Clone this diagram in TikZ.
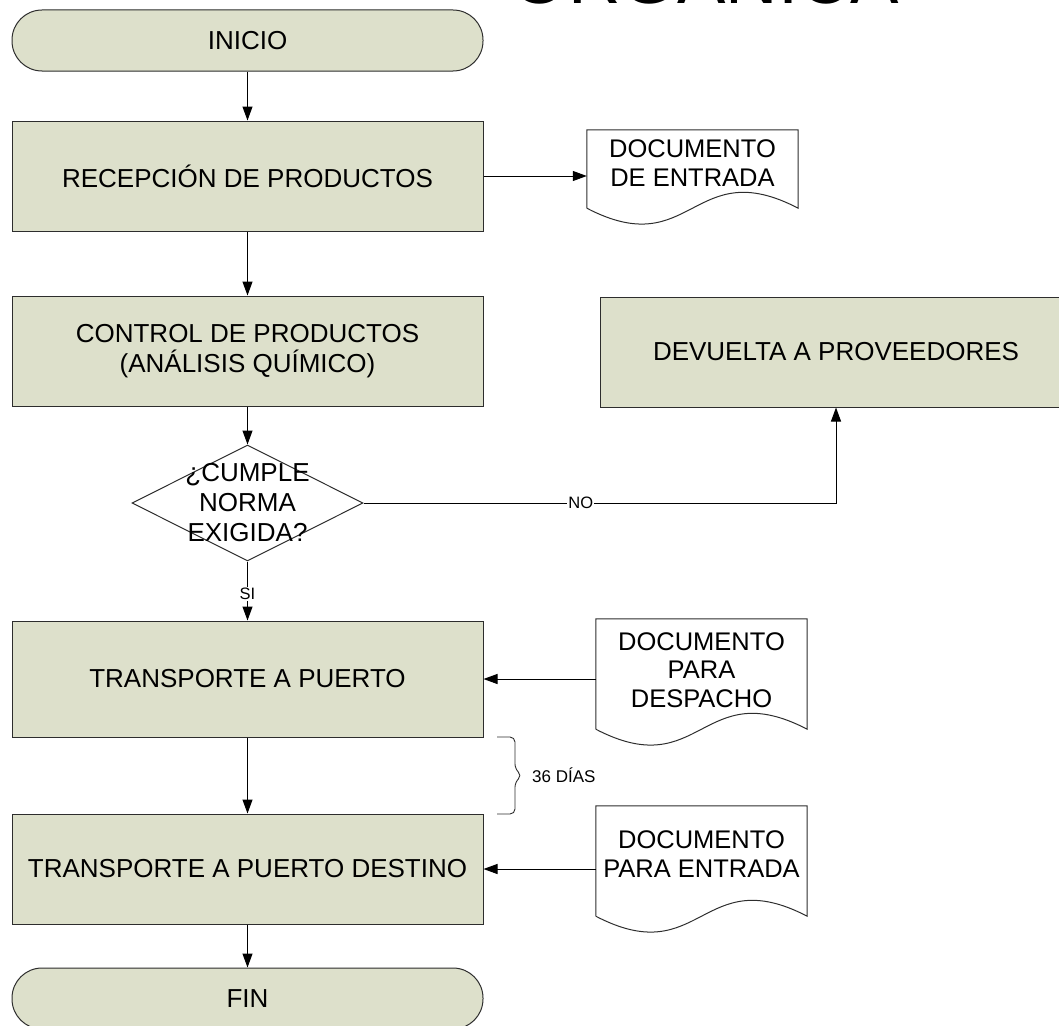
\documentclass[tikz,border=0pt]{standalone}
\usepackage{fontspec}
\setmainfont{Liberation Sans}
\usetikzlibrary{arrows.meta,shapes.geometric,calc}
\definecolor{boxfill}{RGB}{221,224,203}
\definecolor{edge}{RGB}{45,45,45}
\begin{document}
\begin{tikzpicture}[x=1pt,y=-1pt,
  base/.style={font=\fontsize{26}{30}\selectfont, align=center, inner sep=0pt},
  proc/.style={base, draw=edge, fill=boxfill, line width=1pt, minimum width=471pt, minimum height=110pt},
  term/.style={base, draw=edge, fill=boxfill, line width=1pt, rounded corners=30pt, minimum width=471pt, minimum height=61pt},
  docbox/.style={base, minimum width=211pt},
  doctext/.style={font=\fontsize{25.5}{28.5}\selectfont, align=center, inner sep=0pt},
  docline/.style={draw=edge, line width=1pt},
  arr/.style={draw=black, line width=1pt, -{Triangle[length=14pt,width=10pt]}},
  lbl/.style={font=\fontsize{16.5}{18}\selectfont, fill=white, inner sep=1pt}
]
\useasboundingbox (0,0) rectangle (1059,1025);
\begin{scope}
\clip (0,0) rectangle (1059,1025);

% title (mostly outside the page)
\node[font=\fontsize{72.6}{80}\selectfont, anchor=base, inner sep=0pt] (titulo) at (705.5,4) {ORGANICA};

% main column
\node[term] (inicio) at (247.5,40.5) {INICIO};
\node[proc] (recep) at (247.5,176) {RECEPCIÓN DE PRODUCTOS};
\node[proc] (control) at (247.5,351) {CONTROL DE PRODUCTOS\\(ANÁLISIS QUÍMICO)};
\node[diamond, draw=edge, fill=white, line width=1pt, minimum width=231pt, minimum height=116pt, inner sep=0pt] (cumple) at (247.5,503) {};
\node[base] (cumpletxt) at (247.5,503) {¿CUMPLE\\NORMA\\EXIGIDA?};
\node[proc, minimum height=116pt] (trans) at (247.5,679) {TRANSPORTE A PUERTO};
\node[proc] (dest) at (247.5,869) {TRANSPORTE A PUERTO DESTINO};
\node[term] (fin) at (247.5,998.5) {FIN};

\node[proc, minimum width=472pt] (devuelta) at (836,352) {DEVUELTA A PROVEEDORES};

% documents
\node[docbox, minimum height=78pt] (doc1) at (692.5,169) {};
\node[docbox, minimum height=110pt] (doc2) at (701.5,674) {};
\node[docbox, minimum height=110pt] (doc3) at (701.5,861) {};
\foreach \d in {doc1,doc2,doc3}{
  \draw[docline] (\d.south west) -- (\d.north west) -- (\d.north east) -- (\d.south east)
    .. controls ([yshift=55pt]\d.south) and ([yshift=-55pt]\d.south) .. (\d.south west);
}
\node[doctext] (doc1t) at ([yshift=6pt]doc1.center) {DOCUMENTO\\DE ENTRADA};
\node[doctext] (doc2t) at ([yshift=4pt]doc2.center) {DOCUMENTO\\PARA\\DESPACHO};
\node[doctext] (doc3t) at ([yshift=7pt]doc3.center) {DOCUMENTO\\PARA ENTRADA};

% connectors
\draw[arr] (inicio) -- (recep);
\draw[arr] (recep) -- (control);
\draw[arr] (control) -- (cumple);
\draw[arr] (cumple.south) -- node[lbl, pos=0.55] {SI} (trans.north);
\draw[arr] (trans) -- (dest);
\draw[arr] (dest) -- (fin);
\draw[arr] (cumple.east) -| node[lbl, pos=0.23] {NO} (devuelta.south);
\draw[arr] (recep.east) -- (recep.east -| doc1.west);
\draw[arr] (trans.east -| doc2.west) -- (trans.east);
\draw[arr] (dest.east -| doc3.west) -- (dest.east);

% brace
\coordinate (bA) at (497,737);
\coordinate (bB) at (497,814);
\draw[draw=edge, line width=0.9pt, rounded corners=5pt]
  (bA) -- (515,737) -- (515,769) -- (522,775.5) -- (515,782) -- (515,814) -- (bB);
\node[font=\fontsize{17}{19}\selectfont, anchor=west, inner sep=0pt] (dias) at (532,775.5) {36 DÍAS};
\end{scope}
\end{tikzpicture}
\end{document}
